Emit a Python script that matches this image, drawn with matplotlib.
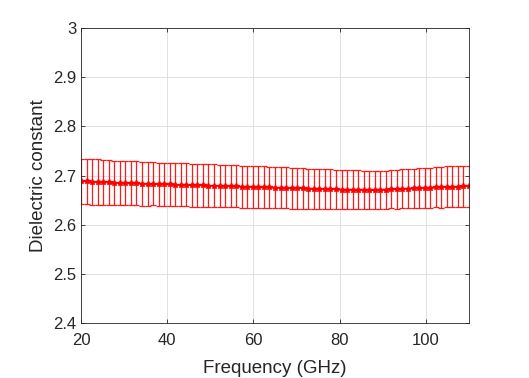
import numpy as np
import matplotlib
matplotlib.use("Agg")
import matplotlib.pyplot as plt

plt.rcParams['font.family'] = ['Liberation Sans', 'DejaVu Sans']

freq = np.linspace(20, 110, 71)
eps_mean = [2.688, 2.688, 2.687, 2.687, 2.686, 2.686, 2.685, 2.685, 2.684, 2.684,
            2.684, 2.683, 2.683, 2.683, 2.682, 2.682, 2.682, 2.681, 2.681, 2.681,
            2.680, 2.680, 2.680, 2.679, 2.679, 2.679, 2.678, 2.678, 2.678, 2.677,
            2.677, 2.677, 2.676, 2.676, 2.676, 2.675, 2.675, 2.675, 2.674, 2.674,
            2.674, 2.673, 2.673, 2.673, 2.672, 2.672, 2.672, 2.671, 2.671, 2.671,
            2.671, 2.670, 2.670, 2.670, 2.671, 2.671, 2.672, 2.672, 2.673, 2.673,
            2.674, 2.674, 2.675, 2.675, 2.676, 2.676, 2.677, 2.677, 2.677, 2.678, 2.678]
eps_std = [0.046, 0.046, 0.046, 0.046, 0.045, 0.045, 0.045, 0.045, 0.045, 0.045,
           0.045, 0.045, 0.045, 0.044, 0.044, 0.044, 0.044, 0.044, 0.044, 0.044,
           0.044, 0.044, 0.044, 0.044, 0.044, 0.043, 0.043, 0.043, 0.043, 0.043,
           0.043, 0.043, 0.043, 0.043, 0.042, 0.042, 0.042, 0.042, 0.042, 0.042,
           0.042, 0.041, 0.041, 0.041, 0.041, 0.041, 0.040, 0.040, 0.040, 0.040,
           0.040, 0.039, 0.039, 0.039, 0.039, 0.039, 0.039, 0.040, 0.040, 0.040,
           0.040, 0.041, 0.041, 0.041, 0.041, 0.042, 0.042, 0.042, 0.042, 0.042, 0.042]

fig = plt.figure(figsize=(5.29, 3.78), dpi=100)
ax = fig.add_axes([81/529, 1-323/378, (469-81)/529, (323-28)/378])
ax.errorbar(freq, eps_mean, yerr=eps_std, color='#ff0000', ecolor='#ff1a1a',
            elinewidth=0.9, capsize=2.0, capthick=0.9, marker='*', markersize=4,
            linewidth=1.2)
ax.set_xlim(20, 110)
ax.set_ylim(2.4, 3.0)
ax.set_xticks([20, 40, 60, 80, 100])
ax.set_yticks(np.arange(2.4, 3.01, 0.1))
ax.yaxis.set_major_formatter(matplotlib.ticker.FormatStrFormatter('%g'))
ax.grid(True, color='#dcdcdc', linewidth=0.6)
ax.set_axisbelow(True)
for s in ax.spines.values():
    s.set_color('#262626')
    s.set_linewidth(0.6)
ax.tick_params(direction='in', length=3, width=0.6, colors='#262626', labelsize=12,
               top=True, right=True)
ax.tick_params(axis='x', pad=7.5)
ax.set_xlabel('Frequency (GHz)', fontsize=13.5, color='#262626', labelpad=8)
ax.set_ylabel('Dielectric constant', fontsize=13.5, color='#262626')
fig.savefig('out.png', dpi=100)
